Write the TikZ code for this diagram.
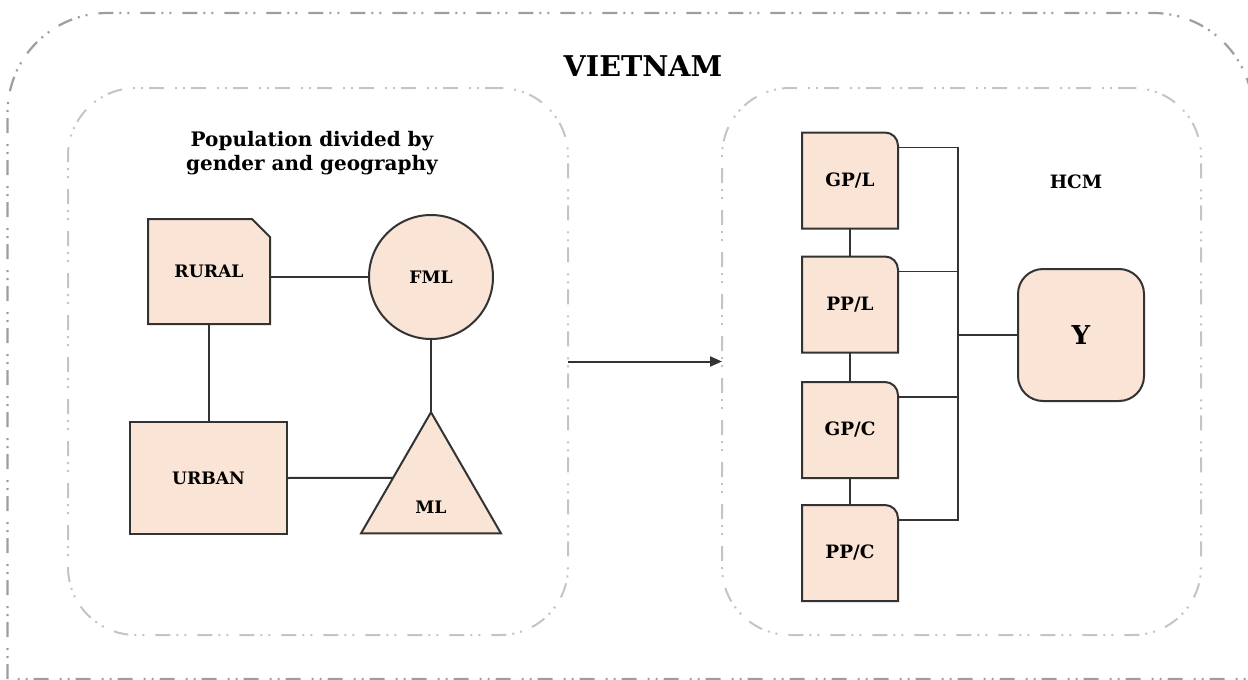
\documentclass[tikz,border=0pt]{standalone}
\usepackage{fontspec}
\setmainfont{DejaVu Serif}
\usetikzlibrary{arrows.meta,shapes.geometric,calc,backgrounds}
\definecolor{peach}{HTML}{FAE4D6}
\definecolor{edgegray}{HTML}{333333}
\definecolor{framegray}{HTML}{9E9E9E}
\definecolor{panelgray}{HTML}{C4C4C4}
\begin{document}
\begin{tikzpicture}[x=0.5pt,y=-0.5pt,
  dashdotdot/.style={dash pattern=on 7.5pt off 3pt on 1pt off 3pt on 1pt off 5.5pt},
  outerframe/.style={draw=framegray,line width=1.1pt,dashdotdot},
  panel/.style={draw=panelgray,line width=1pt,dashdotdot,rounded corners=34pt,
    minimum height=273.5pt,inner sep=0pt,outer sep=0pt},
  shapebox/.style={fill=peach,draw=edgegray,line width=1pt,inner sep=0pt,outer sep=0pt,
    font=\bfseries\fontsize{8.6}{10}\selectfont},
  outlinebox/.style={inner sep=0pt,outer sep=0pt,font=\bfseries\fontsize{8.6}{10}\selectfont},
  tabbox/.style={outlinebox,minimum width=48pt,minimum height=48pt,
    font=\bfseries\fontsize{9.2}{11}\selectfont},
  outline/.style={fill=peach,draw=edgegray,line width=1pt},
  link/.style={draw=edgegray,line width=1pt},
  buslink/.style={draw=edgegray,line width=0.7pt},
  heading/.style={font=\bfseries\fontsize{10}{12}\selectfont,align=center}
]
\useasboundingbox (0,0) rectangle (1248,680);
\clip (0,0) rectangle (1248,680);

% outer country frame (runs past the right and bottom edges)
\draw[outerframe] (7.5,679) -- (7.5,113) arc[start angle=180,end angle=90,radius=50pt]
  -- (1153,13) arc[start angle=90,end angle=0,radius=50pt] -- (1253,679) -- cycle;
\node[font=\bfseries\fontsize{14.3}{17}\selectfont] (country) at (643,66) {VIETNAM};

% two panels
\node[panel,minimum width=250pt] (leftpanel) at (318,361.5) {};
\node[panel,minimum width=239.5pt] (rightpanel) at (961.5,361.5) {};
\draw[link,-{Triangle[length=6pt,width=5pt]}] (leftpanel.east) -- (rightpanel.west);

% left panel: population groups
\node[heading] (pophead) at (312,153) {Population divided by\\gender and geography};
\node[outlinebox,minimum width=61pt,minimum height=52.5pt] (rural) at (209,271.5) {RURAL};
\node[shapebox,circle,minimum size=62pt] (fml) at (431,277) {FML};
\node[shapebox,minimum width=78.5pt,minimum height=56pt] (urban) at (208.5,478) {URBAN};
\node[shapebox,regular polygon,regular polygon sides=3,minimum size=80.8pt] (ml) at (431,493) {};
\node[outlinebox] (mltext) at (431,507) {ML};

\draw[link] (fml.west) -- (fml.west -| rural.east);
\draw[link] (rural.south) -- (rural.south |- urban.north);
\draw[link] (fml.south) -- (ml.corner 1);
\draw[link] (urban.east) -- ($(ml.corner 1)!0.541!(ml.corner 2)$);

% right panel: HCM groups
\node[font=\bfseries\fontsize{9.2}{11}\selectfont] (hcm) at (1076,182) {HCM};
\node[tabbox] (gpl) at (850,180.5) {GP/L};
\node[tabbox] (ppl) at (850,304.5) {PP/L};
\node[tabbox] (gpc) at (850,430) {GP/C};
\node[tabbox] (ppc) at (850,553) {PP/C};
\node[shapebox,rounded corners=12.5pt,minimum width=63pt,minimum height=66pt,
  font=\bfseries\fontsize{13}{15}\selectfont] (y) at (1081,335) {Y};

\draw[buslink] (gpl.south) -- (ppl.north);
\draw[buslink] (ppl.south) -- (gpc.north);
\draw[buslink] (gpc.south) -- (ppc.north);
\coordinate (bus) at (958,335);
\draw[buslink] ([yshift=-7.5pt]gpl.north east) -| (bus);
\draw[buslink] ([yshift=-7.5pt]ppc.north east) -| (bus);
\draw[buslink] ([yshift=-7.5pt]ppl.north east) -- ([yshift=-7.5pt]ppl.north east -| bus);
\draw[buslink] ([yshift=-7.5pt]gpc.north east) -- ([yshift=-7.5pt]gpc.north east -| bus);
\draw[buslink] (bus) -- (y.west);

% outlines with a single shaped corner
\begin{pgfonlayer}{background}
  \draw[outline] (rural.south west) -- (rural.north west) -- ([xshift=-9pt]rural.north east)
    -- ([yshift=-9pt]rural.north east) -- (rural.south east) -- cycle;
  \foreach \n in {gpl,ppl,gpc,ppc}
    \draw[outline] (\n.south west) -- (\n.north west) -- ([xshift=-6.5pt]\n.north east)
      arc[start angle=90,end angle=0,radius=6.5pt] -- (\n.south east) -- cycle;
\end{pgfonlayer}
\end{tikzpicture}
\end{document}
